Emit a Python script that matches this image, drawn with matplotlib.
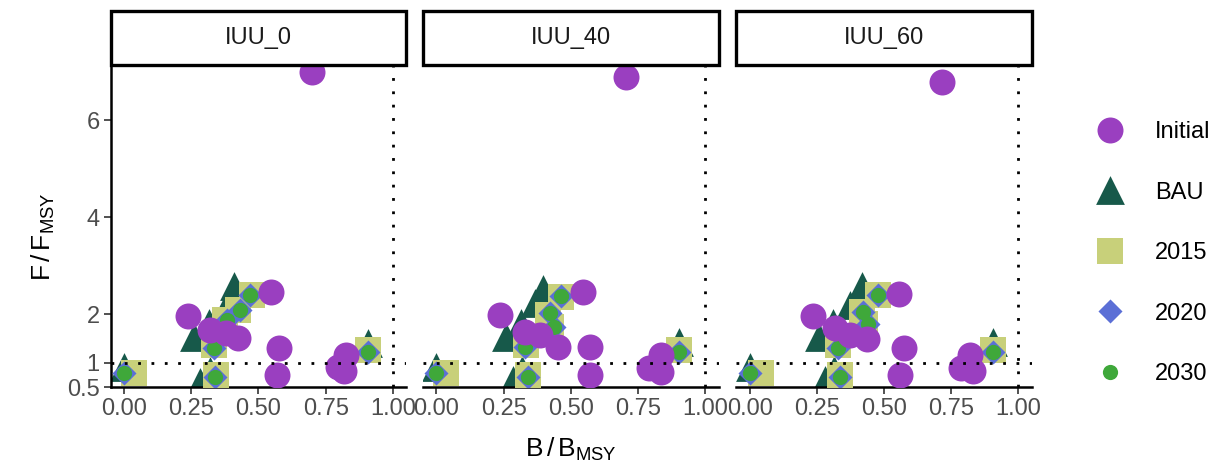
import numpy as np
import matplotlib
matplotlib.use("Agg")
import matplotlib.pyplot as plt
from matplotlib.patches import Rectangle

plt.rcParams['font.family'] = ['Liberation Sans', 'DejaVu Sans']
plt.rcParams['mathtext.fontset'] = 'custom'
plt.rcParams['mathtext.rm'] = 'Liberation Sans'
plt.rcParams['mathtext.it'] = 'Liberation Sans:italic'

panels = ["IUU_0", "IUU_40", "IUU_60"]

# B/BMSY and F/FMSY per scenario
initial_b = {
    "IUU_0": [0.70, 0.236, 0.545, 0.32, 0.38, 0.425, 0.576, 0.569, 0.796, 0.827, 0.82],
    "IUU_40": [0.707, 0.235, 0.544, 0.328, 0.384, 0.452, 0.572, 0.572, 0.792, 0.835, 0.835],
    "IUU_60": [0.717, 0.235, 0.556, 0.317, 0.373, 0.435, 0.573, 0.561, 0.787, 0.82, 0.83],
}
initial_f = {
    "IUU_0": [7.0, 1.96, 2.45, 1.675, 1.61, 1.52, 1.31, 0.75, 0.92, 1.16, 0.82],
    "IUU_40": [6.89, 1.98, 2.45, 1.64, 1.57, 1.33, 1.33, 0.75, 0.885, 1.15, 0.815],
    "IUU_60": [6.79, 1.96, 2.41, 1.71, 1.57, 1.48, 1.30, 0.75, 0.885, 1.15, 0.82],
}
bau_b = {
    "IUU_0": [0.408, 0.383, 0.314, 0.259, 0.0, 0.32, 0.283, 0.907],
    "IUU_40": [0.396, 0.365, 0.316, 0.26, 0.0, 0.318, 0.285, 0.903],
    "IUU_60": [0.416, 0.373, 0.311, 0.256, 0.0, 0.314, 0.28, 0.904],
}
bau_f = {
    "IUU_0": [2.58, 2.19, 1.81, 1.54, 0.92, 0.82, 0.61, 1.40],
    "IUU_40": [2.53, 2.23, 1.81, 1.54, 0.92, 0.85, 0.64, 1.43],
    "IUU_60": [2.58, 2.19, 1.81, 1.54, 0.92, 0.85, 0.64, 1.43],
}
b_2015 = {
    "IUU_0": [0.036, 0.341, 0.333, 0.376, 0.425, 0.475, 0.907],
    "IUU_40": [0.037, 0.34, 0.334, 0.414, 0.427, 0.464, 0.903],
    "IUU_60": [0.042, 0.336, 0.33, 0.416, 0.43, 0.478, 0.904],
}
f_2015 = {
    "IUU_0": [0.78, 0.75, 1.37, 1.88, 2.09, 2.40, 1.26],
    "IUU_40": [0.78, 0.75, 1.37, 1.98, 1.74, 2.36, 1.26],
    "IUU_60": [0.78, 0.75, 1.37, 2.05, 1.80, 2.40, 1.26],
}
b_2020 = {
    "IUU_0": [0.0, 0.339, 0.333, 0.382, 0.43, 0.468, 0.907],
    "IUU_40": [0.0, 0.34, 0.328, 0.421, 0.439, 0.462, 0.903],
    "IUU_60": [0.0, 0.336, 0.33, 0.422, 0.44, 0.478, 0.904],
}
f_2020 = {
    "IUU_0": [0.78, 0.71, 1.31, 1.88, 2.09, 2.40, 1.23],
    "IUU_40": [0.78, 0.71, 1.33, 2.02, 1.74, 2.38, 1.23],
    "IUU_60": [0.78, 0.71, 1.31, 2.05, 1.80, 2.40, 1.23],
}
b_2030 = {
    "IUU_0": [0.0, 0.339, 0.333, 0.382, 0.43, 0.468, 0.907],
    "IUU_40": [0.0, 0.34, 0.328, 0.421, 0.439, 0.462, 0.903],
    "IUU_60": [0.0, 0.336, 0.33, 0.422, 0.44, 0.478, 0.904],
}
f_2030 = {
    "IUU_0": [0.78, 0.71, 1.31, 1.88, 2.09, 2.40, 1.23],
    "IUU_40": [0.78, 0.71, 1.33, 2.02, 1.74, 2.38, 1.23],
    "IUU_60": [0.78, 0.71, 1.31, 2.05, 1.80, 2.40, 1.23],
}

x_ticks = [0.0, 0.25, 0.5, 0.75, 1.0]
x_labels = ["0.00", "0.25", "0.50", "0.75", "1.00"]
y_ticks = [0.5, 1, 2, 4, 6]
y_labels = ["0.5", "1", "2", "4", "6"]

col_init = "#9a3fc0"
col_bau = "#17594a"
col_2015 = "#c8d07a"
col_2020 = "#5b6fd6"
col_2030 = "#3fa83a"
txt_grey = "#4d4d4d"

fig = plt.figure(figsize=(12.19, 4.73), dpi=100)
lefts = [0.0908, 0.347, 0.604]
w = 0.2425
bottom, top = 0.1818, 0.8626

handles = None
for i, p in enumerate(panels):
    ax = fig.add_axes([lefts[i], bottom, w, top - bottom])
    h_bau = ax.scatter(bau_b[p], bau_f[p], marker="^", s=430, color=col_bau, linewidths=0, zorder=2)
    h_15 = ax.scatter(b_2015[p], f_2015[p], marker="s", s=340, color=col_2015, linewidths=0, zorder=3)
    h_20 = ax.scatter(b_2020[p], f_2020[p], marker="D", s=150, color=col_2020, linewidths=0, zorder=4)
    h_30 = ax.scatter(b_2030[p], f_2030[p], marker="o", s=120, color=col_2030, linewidths=0, zorder=5)
    h_in = ax.scatter(initial_b[p], initial_f[p], marker="o", s=350, color=col_init, linewidths=0, zorder=6)
    if handles is None:
        handles = [h_in, h_bau, h_15, h_20, h_30]

    ax.axhline(1, color="black", lw=2.0, ls=(0, (1, 3.8)), dash_capstyle="butt", zorder=7)
    ax.axvline(1, color="black", lw=2.0, ls=(0, (1, 3.8)), dash_capstyle="butt", zorder=7)

    ax.set_xlim(-0.05, 1.05)
    ax.set_ylim(0.5, 7.14)
    ax.set_xticks(x_ticks)
    ax.set_xticklabels(x_labels)
    ax.set_yticks(y_ticks)
    ax.set_yticklabels(y_labels)
    ax.tick_params(axis="both", labelsize=17, labelcolor=txt_grey, color="#333333",
                   length=5, width=1.2, pad=3)
    for s in ["top", "right"]:
        ax.spines[s].set_visible(False)
    ax.spines["bottom"].set_linewidth(1.8)
    ax.spines["left"].set_linewidth(1.8)
    if i > 0:
        ax.spines["left"].set_visible(False)
        ax.tick_params(axis="y", left=False, labelleft=False)

    # facet strip
    ax.add_patch(Rectangle((0, 1.0), 1, 0.168, transform=ax.transAxes, facecolor="white",
                           edgecolor="black", lw=2.4, clip_on=False, zorder=10))
    ax.text(0.5, 1.084, p, transform=ax.transAxes, ha="center", va="center",
            fontsize=17, color="#1a1a1a", zorder=11)

fig.text(571 / 1219, 0.035, r"$\mathrm{B\,/\,B_{MSY}}$", ha="center", va="baseline", fontsize=19)
fig.text(0.036, 0.50, r"$\mathrm{F\,/\,F_{MSY}}$", ha="center", va="center", rotation=90, fontsize=19)

fig.legend(handles, ["Initial", "BAU", "2015", "2020", "2030"], loc="center left",
           bbox_to_anchor=(0.8915, 0.465), frameon=False, fontsize=17, scatterpoints=1,
           scatteryoffsets=[0.5], handlelength=1.2, handletextpad=1.3, labelspacing=1.63,
           borderaxespad=0)

fig.savefig("out.png", dpi=100)
